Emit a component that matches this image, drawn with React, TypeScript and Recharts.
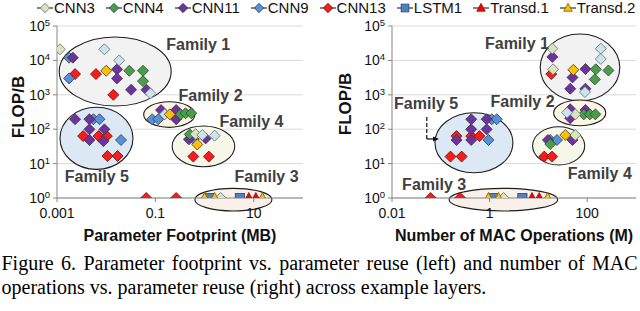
import React from 'react';
import {
  ScatterChart,
  Scatter,
  XAxis,
  YAxis,
  CartesianGrid,
  ReferenceArea,
  ReferenceDot,
  ReferenceLine,
} from 'recharts';

type Pt = [number, number];

// ---------------- series names & legend ----------------
const LEGEND_KEYS = ['CNN3', 'CNN4', 'CNN11', 'CNN9', 'CNN13', 'LSTM1', 'Transd.1', 'Transd.2'];
const SERIES_ORDER = ['CNN13', 'CNN9', 'CNN11', 'CNN4', 'CNN3', 'CNNc', 'CNNy', 'LSTM1', 'Transd.1', 'Transd.2'];

// ---------------- left panel: parameter footprint (MB) vs FLOP/B ----------------
const CNN3_L: Pt[] = [[0.00115, 21000], [0.655, 72], [2.12, 1]];
const CNNC_L: Pt[] = [[0.0092, 21000], [0.0184, 10000], [0.079, 1100], [0.155, 270], [0.9, 68], [1.6, 65]];
const CNN4_L: Pt[] = [[0.0295, 5000], [0.056, 5000], [0.056, 2500], [0.324, 270], [0.41, 290], [0.537, 290], [0.5, 71]];
const CNN11_L: Pt[] = [
  [0.0021, 12000], [0.0166, 5500], [0.0166, 3000], [0.032, 1400], [0.066, 1400],
  [0.13, 360], [0.264, 360], [0.264, 195], [0.48, 51], [1.05, 54],
  [0.00233, 195], [0.00457, 195], [0.00457, 99], [0.0092, 99], [0.00457, 48.5], [0.0088, 45],
];
const CNN9_L: Pt[] = [[0.00176, 12000], [0.00176, 3000], [0.0857, 195], [0.114, 195], [0.6, 51], [0.0055, 195], [0.0073, 195], [0.02, 48.5]];
const CNN13_L: Pt[] = [
  [0.00233, 4000], [0.0062, 4000], [0.014, 1000], [0.0034, 63], [0.007, 63], [0.0103, 63],
  [0.0106, 16.6], [0.017, 16.6], [0.59, 16], [1.22, 16], [0.065, 1], [0.264, 1],
];
const CNNY_L: Pt[] = [[0.01, 5000], [0.196, 270], [0.71, 36]];
const LSTM1_L: Pt[] = [[1.26, 1], [5.2, 1]];
const TRANSD1_L: Pt[] = [[7.9, 1], [11, 1]];
const TRANSD2_L: Pt[] = [[1.0, 1], [1.6, 1], [15, 1]];

// ---------------- right panel: MAC operations (M) vs FLOP/B ----------------
const CNN3_R: Pt[] = [[19.3, 22000], [20, 5500], [57, 270], [57, 68], [1.93, 1]];
const CNNC_R: Pt[] = [[190, 22000], [190, 11000], [90, 1200], [38.6, 302]];
const CNN4_R: Pt[] = [[150, 5500], [272, 5100], [143, 2800], [85, 270], [113, 270], [147, 270], [17.5, 37]];
const CNN11_R: Pt[] = [
  [19.3, 12600], [92, 5600], [50, 3200], [45, 1500], [92, 1500], [45, 380], [45, 208], [92, 360],
  [15.7, 48.5], [50, 48.5], [0.42, 195], [0.87, 195], [0.42, 99], [0.87, 99], [0.21, 48.5], [0.42, 48.5],
];
const CNN9_R: Pt[] = [[17.5, 48.5], [24, 48.5], [1.11, 195], [1.4, 195], [0.95, 48.5]];
const CNN13_R: Pt[] = [
  [18.4, 4000], [13.2, 16], [19, 16], [0.21, 63], [0.42, 63], [0.62, 63], [0.158, 16], [0.267, 16],
  [0.062, 1], [0.249, 1],
];
const CNNY_R: Pt[] = [[52, 5300], [35.6, 68]];
const LSTM1_R: Pt[] = [[1.17, 1], [4.7, 1]];
const TRANSD1_R: Pt[] = [[7.4, 1], [10.4, 1]];
const TRANSD2_R: Pt[] = [[0.95, 1], [1.52, 1], [15.5, 1]];

// ---------------- families: [x1, x2, y1, y2] boxes and label anchors ----------------
const FAMILY_NAMES = ['Family 1', 'Family 2', 'Family 3', 'Family 4', 'Family 5'];
const FAMILY_BOX_L: [number, number, number, number][] = [
  [0.00111, 0.209, 472, 48000],
  [0.0577, 0.634, 113, 630],
  [0.634, 23.4, 0.42, 1.91],
  [0.219, 4.1, 8.1, 124],
  [0.00115, 0.035, 6.8, 433],
];
const FAMILY_LABEL_L: Pt[] = [[0.743, 29400], [1.32, 923], [18.2, 4.36], [8.97, 165], [0.00646, 4.36]];
const FAMILY_BOX_R: [number, number, number, number][] = [
  [10.9, 465, 660, 58500],
  [20.5, 240, 126, 705],
  [0.148, 24.8, 0.42, 1.91],
  [7.6, 89, 9.1, 118],
  [0.076, 3.0, 5.4, 302],
];
const FAMILY_LABEL_R: Pt[] = [[3.64, 30000], [4.74, 630], [0.073, 2.5], [181, 4.99], [0.05, 566]];
const ARROW_R: Pt[] = [[0.0516, 226], [0.0516, 52], [0.08, 52]];

// ---------------- axes ----------------
const X_DOMAIN_L: [number, number] = [0.001, 100];
const X_TICKS_L = [0.001, 0.1, 10];
const X_DOMAIN_R: [number, number] = [0.01, 1000];
const X_TICKS_R = [0.01, 1, 100];
const Y_DOMAIN: [number, number] = [1, 100000];
const Y_TICKS = [1, 10, 100, 1000, 10000, 100000];

// ---------------- styles ----------------
const SANS = "'Liberation Sans', Arial, sans-serif";
const SERIF = "'Liberation Serif', 'Times New Roman', serif";
const AXIS = '#868686';
const FAMILY_FILLS = ['#f2f2f2', '#fcf5e4', '#f9f0ea', '#f6f7e9', '#dce8f4'];

type Shape = 'diamond' | 'square' | 'triangle';
interface Sty { fill: string; stroke: string; shape: Shape }
const STYLES: Record<string, Sty> = {
  CNN3: { fill: '#d7e4bd', stroke: '#6a6a6a', shape: 'diamond' },
  CNNc: { fill: '#c9e6ee', stroke: '#6a6a6a', shape: 'diamond' },
  CNN4: { fill: '#46a04a', stroke: '#3a3a3a', shape: 'diamond' },
  CNN11: { fill: '#70309f', stroke: '#3a3a3a', shape: 'diamond' },
  CNN9: { fill: '#5592de', stroke: '#3a3a3a', shape: 'diamond' },
  CNN13: { fill: '#ff1a1a', stroke: '#5a1010', shape: 'diamond' },
  CNNy: { fill: '#ffc000', stroke: '#3a3a3a', shape: 'diamond' },
  LSTM1: { fill: '#4f81bd', stroke: '#2b4a70', shape: 'square' },
  'Transd.1': { fill: '#ff0000', stroke: '#8a1010', shape: 'triangle' },
  'Transd.2': { fill: '#ffc000', stroke: '#7a5a00', shape: 'triangle' },
};

const LEFT: Record<string, Pt[]> = {
  CNN3: CNN3_L, CNNc: CNNC_L, CNN4: CNN4_L, CNN11: CNN11_L, CNN9: CNN9_L, CNN13: CNN13_L,
  CNNy: CNNY_L, LSTM1: LSTM1_L, 'Transd.1': TRANSD1_L, 'Transd.2': TRANSD2_L,
};
const RIGHT: Record<string, Pt[]> = {
  CNN3: CNN3_R, CNNc: CNNC_R, CNN4: CNN4_R, CNN11: CNN11_R, CNN9: CNN9_R, CNN13: CNN13_R,
  CNNy: CNNY_R, LSTM1: LSTM1_R, 'Transd.1': TRANSD1_R, 'Transd.2': TRANSD2_R,
};

const toXY = (a: Pt[]) => a.map(([x, y]) => ({ x, y }));

function drawMarker(cx: number, cy: number, s: Sty, k = 1) {
  if (s.shape === 'diamond') {
    const r = 5.5 * k;
    return (
      <polygon
        points={`${cx},${cy - r} ${cx + r},${cy} ${cx},${cy + r} ${cx - r},${cy}`}
        fill={s.fill}
        stroke={s.stroke}
        strokeWidth={0.8}
      />
    );
  }
  if (s.shape === 'square') {
    const h = 4.6 * k;
    return <rect x={cx - h} y={cy - h} width={2 * h} height={2 * h} fill={s.fill} stroke={s.stroke} strokeWidth={0.8} />;
  }
  const w = 5 * k;
  return (
    <polygon
      points={`${cx},${cy - 5.5 * k} ${cx + w},${cy + 3.8 * k} ${cx - w},${cy + 3.8 * k}`}
      fill={s.fill}
      stroke={s.stroke}
      strokeWidth={0.8}
    />
  );
}

const YTick = (p: any) => {
  const e = Math.round(Math.log10(p.payload.value));
  return (
    <text x={p.x} y={p.y} dy={5} textAnchor="end" fontSize={14} fill="#111" fontFamily={SANS}>
      10
      <tspan dy={-5} fontSize={9.5}>
        {e}
      </tspan>
    </text>
  );
};

const XTick = (p: any) => (
  <text x={p.x} y={p.y} dy={14} textAnchor="middle" fontSize={14} fill="#111" fontFamily={SANS}>
    {String(p.payload.value)}
  </text>
);

interface PanelProps {
  data: Record<string, Pt[]>;
  xDomain: [number, number];
  xTicks: number[];
  boxes: [number, number, number, number][];
  labels: Pt[];
  marginLeft: number;
  marginRight: number;
  arrow?: Pt[];
}

function Panel({ data, xDomain, xTicks, boxes, labels, marginLeft, marginRight, arrow }: PanelProps) {
  return (
    <ScatterChart width={320} height={230} margin={{ top: 26, right: marginRight, bottom: 2, left: marginLeft }}>
      <CartesianGrid vertical={false} stroke="#d9d9d9" />
      <XAxis
        dataKey="x"
        type="number"
        scale="log"
        domain={xDomain}
        ticks={xTicks}
        allowDataOverflow
        interval={0}
        height={30}
        tickSize={4}
        tickMargin={2}
        axisLine={{ stroke: AXIS }}
        tickLine={{ stroke: AXIS }}
        tick={(p: any) => <XTick {...p} />}
      />
      <YAxis
        dataKey="y"
        type="number"
        scale="log"
        domain={Y_DOMAIN}
        ticks={Y_TICKS}
        allowDataOverflow
        interval={0}
        width={50}
        tickSize={4}
        tickMargin={3}
        axisLine={{ stroke: AXIS }}
        tickLine={{ stroke: AXIS }}
        tick={(p: any) => <YTick {...p} />}
      />
      <XAxis xAxisId="top" orientation="top" type="number" domain={[0, 1]} height={0} tick={false} tickLine={false} axisLine={{ stroke: AXIS }} />
      <YAxis yAxisId="right" orientation="right" type="number" domain={[0, 1]} width={0} tick={false} tickLine={false} axisLine={{ stroke: AXIS }} />
      {boxes.map((b, i) => (
        <ReferenceArea
          key={FAMILY_NAMES[i]}
          x1={b[0]}
          x2={b[1]}
          y1={b[2]}
          y2={b[3]}
          ifOverflow="visible"
          shape={(p: any) => (
            <ellipse
              cx={p.x + p.width / 2}
              cy={p.y + p.height / 2}
              rx={Math.abs(p.width) / 2}
              ry={Math.abs(p.height) / 2}
              fill={FAMILY_FILLS[i]}
              stroke="#1e1e1e"
              strokeWidth={1.1}
            />
          )}
        />
      ))}
      {SERIES_ORDER.map((k) => (
        <Scatter
          key={k}
          name={k}
          data={toXY(data[k])}
          isAnimationActive={false}
          shape={(p: any) => drawMarker(p.cx, p.cy, STYLES[k])}
        />
      ))}
      {arrow && (
        <ReferenceLine
          segment={[{ x: arrow[0][0], y: arrow[0][1] }, { x: arrow[1][0], y: arrow[1][1] }]}
          stroke="#111"
          strokeWidth={1.2}
          strokeDasharray="4 2"
          ifOverflow="visible"
        />
      )}
      {arrow && (
        <ReferenceLine
          segment={[{ x: arrow[1][0], y: arrow[1][1] }, { x: arrow[2][0], y: arrow[2][1] }]}
          stroke="#111"
          strokeWidth={1.2}
          ifOverflow="visible"
        />
      )}
      {arrow && (
        <ReferenceDot
          x={arrow[2][0]}
          y={arrow[2][1]}
          r={3}
          ifOverflow="visible"
          shape={(p: any) => (
            <polygon points={`${p.cx + 3},${p.cy} ${p.cx - 3},${p.cy - 2.5} ${p.cx - 3},${p.cy + 2.5}`} fill="#111" />
          )}
        />
      )}
      {labels.map((l, i) => (
        <ReferenceDot
          key={'lab' + i}
          x={l[0]}
          y={l[1]}
          r={1}
          ifOverflow="visible"
          shape={(p: any) => (
            <text
              x={p.cx}
              y={p.cy}
              dy={5.5}
              textAnchor="middle"
              fontFamily={SANS}
              fontWeight="bold"
              fontSize={16}
              fill="#404040"
            >
              {FAMILY_NAMES[i]}
            </text>
          )}
        />
      ))}
    </ScatterChart>
  );
}

function Legend() {
  return (
    <div
      style={{
        position: 'absolute',
        left: 37,
        top: 0,
        height: 15,
        display: 'flex',
        alignItems: 'center',
        fontFamily: SANS,
        fontSize: 15,
        lineHeight: '15px',
        color: '#111',
        whiteSpace: 'nowrap',
      }}
    >
      {LEGEND_KEYS.map((k) => (
        <div key={k} style={{ display: 'flex', alignItems: 'center', marginRight: 11 }}>
          <svg width={16} height={12} style={{ display: 'block' }}>
            <line x1={0} y1={6} x2={16} y2={6} stroke="#404040" strokeWidth={1.3} />
            {drawMarker(8, 6, STYLES[k], 0.85)}
          </svg>
          <span style={{ marginLeft: 1 }}>{k}</span>
        </div>
      ))}
    </div>
  );
}

const titleStyle: React.CSSProperties = {
  position: 'absolute',
  fontFamily: SANS,
  fontWeight: 'bold',
  color: '#111',
  textAlign: 'center',
  whiteSpace: 'nowrap',
};

export default function App() {
  return (
    <div style={{ position: 'absolute', left: 0, top: 0, width: 640, height: 311, background: '#fff', overflow: 'hidden' }}>
      <Legend />
      <div style={{ position: 'absolute', left: 0, top: 0 }}>
        <Panel
          data={LEFT}
          xDomain={X_DOMAIN_L}
          xTicks={X_TICKS_L}
          boxes={FAMILY_BOX_L}
          labels={FAMILY_LABEL_L}
          marginLeft={7}
          marginRight={17}
        />
      </div>
      <div style={{ position: 'absolute', left: 320, top: 0 }}>
        <Panel
          data={RIGHT}
          xDomain={X_DOMAIN_R}
          xTicks={X_TICKS_R}
          boxes={FAMILY_BOX_R}
          labels={FAMILY_LABEL_R}
          marginLeft={22}
          marginRight={4}
          arrow={ARROW_R}
        />
      </div>
      <div style={{ ...titleStyle, left: 30, width: 300, top: 227, fontSize: 16, lineHeight: '18px' }}>
        Parameter Footprint (MB)
      </div>
      <div style={{ ...titleStyle, left: 364, width: 300, top: 227, fontSize: 16, lineHeight: '18px' }}>
        Number of MAC Operations (M)
      </div>
      <div
        style={{
          ...titleStyle,
          left: 19 - 50,
          top: 106.5 - 10,
          width: 100,
          fontSize: 17,
          lineHeight: '20px',
          transform: 'rotate(-90deg)',
        }}
      >
        FLOP/B
      </div>
      <div
        style={{
          ...titleStyle,
          left: 346 - 50,
          top: 104 - 10,
          width: 100,
          fontSize: 17,
          lineHeight: '20px',
          transform: 'rotate(-90deg)',
        }}
      >
        FLOP/B
      </div>
      <div
        style={{
          position: 'absolute',
          left: 1.5,
          top: 250,
          width: 636,
          fontFamily: SERIF,
          fontSize: 20,
          lineHeight: '27px',
          color: '#000',
          textAlign: 'justify',
          textAlignLast: 'justify',
          whiteSpace: 'nowrap',
        }}
      >
        Figure 6. Parameter footprint vs. parameter reuse (left) and number of MAC
      </div>
      <div
        style={{
          position: 'absolute',
          left: 1.5,
          top: 274,
          fontFamily: SERIF,
          fontSize: 20,
          lineHeight: '27px',
          color: '#000',
          whiteSpace: 'nowrap',
        }}
      >
        operations vs. parameter reuse (right) across example layers.
      </div>
    </div>
  );
}
